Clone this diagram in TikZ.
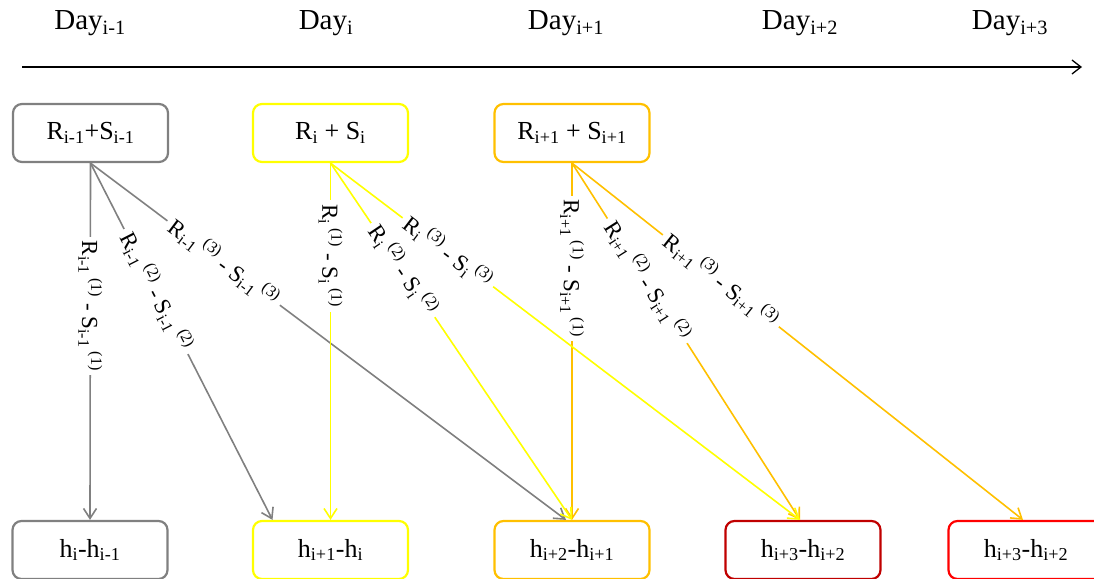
\documentclass[tikz,border=0pt]{standalone}
\usepackage{fontspec}
\setmainfont{Liberation Serif}
\usetikzlibrary{arrows.meta}
\definecolor{cgray}{RGB}{128,128,128}
\definecolor{cyel}{RGB}{255,255,0}
\definecolor{corange}{RGB}{255,192,0}
\definecolor{cdark}{RGB}{192,0,0}
\definecolor{cred}{RGB}{255,0,0}
\tikzset{
  box/.style={draw, rounded corners=9pt, line width=2.2pt, fill=white,
    minimum width=155pt, minimum height=58pt, inner sep=0pt,
    font=\fontsize{26}{30}\selectfont},
  daylbl/.style={font=\fontsize{29}{32}\selectfont, inner sep=0pt},
  flow/.style={line width=1.6pt, -{Straight Barb[length=10pt,width=13pt,line width=1.6pt]}},
  lbl/.style={sloped, fill=white, text=black, inner sep=5pt,
    font=\fontsize{23}{25}\selectfont},
  vlbl/.style={rotate=-90, fill=white, text=black, inner sep=4pt,
    font=\fontsize{23}{25}\selectfont}
}
\newcommand{\rs}[2]{R\textsubscript{#1}\,\textsuperscript{(#2)} - S\textsubscript{#1}\,\textsuperscript{(#2)}}
\begin{document}
\begin{tikzpicture}[x=1pt,y=-1pt]
\useasboundingbox (0,0) rectangle (1094,578);

% time axis
\node[daylbl] (d0) at (90,23) {Day\textsubscript{i-1}};
\node[daylbl] (d1) at (326,23) {Day\textsubscript{i}};
\node[daylbl] (d2) at (566,23) {Day\textsubscript{i+1}};
\node[daylbl] (d3) at (800,23) {Day\textsubscript{i+2}};
\node[daylbl] (d4) at (1010,23) {Day\textsubscript{i+3}};
\coordinate (axl) at (22,67);
\coordinate (axr) at (1082,67);
\draw[line width=1.3pt, -{Straight Barb[length=9pt,width=14pt,line width=1.3pt]}] (axl) -- (axr);

% daily totals
\node[box, draw=cgray]   (t0) at (90.5,133) {R\textsubscript{i-1}+S\textsubscript{i-1}};
\node[box, draw=cyel]    (t1) at (330.5,133) {R\textsubscript{i} + S\textsubscript{i}};
\node[box, draw=corange] (t2) at (572,133) {R\textsubscript{i+1} + S\textsubscript{i+1}};

% level differences
\node[box, draw=cgray]   (b0) at (90,550) {h\textsubscript{i}-h\textsubscript{i-1}};
\node[box, draw=cyel]    (b1) at (330.5,550) {h\textsubscript{i+1}-h\textsubscript{i}};
\node[box, draw=corange] (b2) at (572,550) {h\textsubscript{i+2}-h\textsubscript{i+1}};
\node[box, draw=cdark]   (b3) at (803,550) {h\textsubscript{i+3}-h\textsubscript{i+2}};
\node[box, draw=cred]    (b4) at (1026,550) {h\textsubscript{i+3}-h\textsubscript{i+2}};

% contributions of day i-1
\draw[flow, cgray] (t0.south) -- node[vlbl, pos=0.40] {\rs{i-1}{1}} (b0.north);
\draw[flow, cgray] (t0.south) -- node[lbl, pos=0.36] {\rs{i-1}{2}} ([xshift=-58pt]b1.north);
\draw[flow, cgray] (t0.south) -- node[lbl, pos=0.28] {\rs{i-1}{3}} ([xshift=-6pt]b2.north);

% contributions of day i+1
\draw[flow, corange] (t2.south) -- node[vlbl, pos=0.295] {\rs{i+1}{1}} (b2.north);
\draw[flow, corange] (t2.south) -- node[lbl, pos=0.33] {\rs{i+1}{2}} ([xshift=-3pt]b3.north);
\draw[flow, corange] (t2.south) -- node[lbl, pos=0.33] {\rs{i+1}{3}} ([xshift=-3pt]b4.north);

% contributions of day i
\draw[flow, cyel] (t1.south) -- node[vlbl, pos=0.26] {\rs{i}{1}} (b1.north);
\draw[flow, cyel] (t1.south) -- node[lbl, pos=0.30] {\rs{i}{2}} (b2.north);
\draw[flow, cyel] (t1.south) -- node[lbl, pos=0.25] {\rs{i}{3}} ([xshift=-3pt]b3.north);
\end{tikzpicture}
\end{document}
